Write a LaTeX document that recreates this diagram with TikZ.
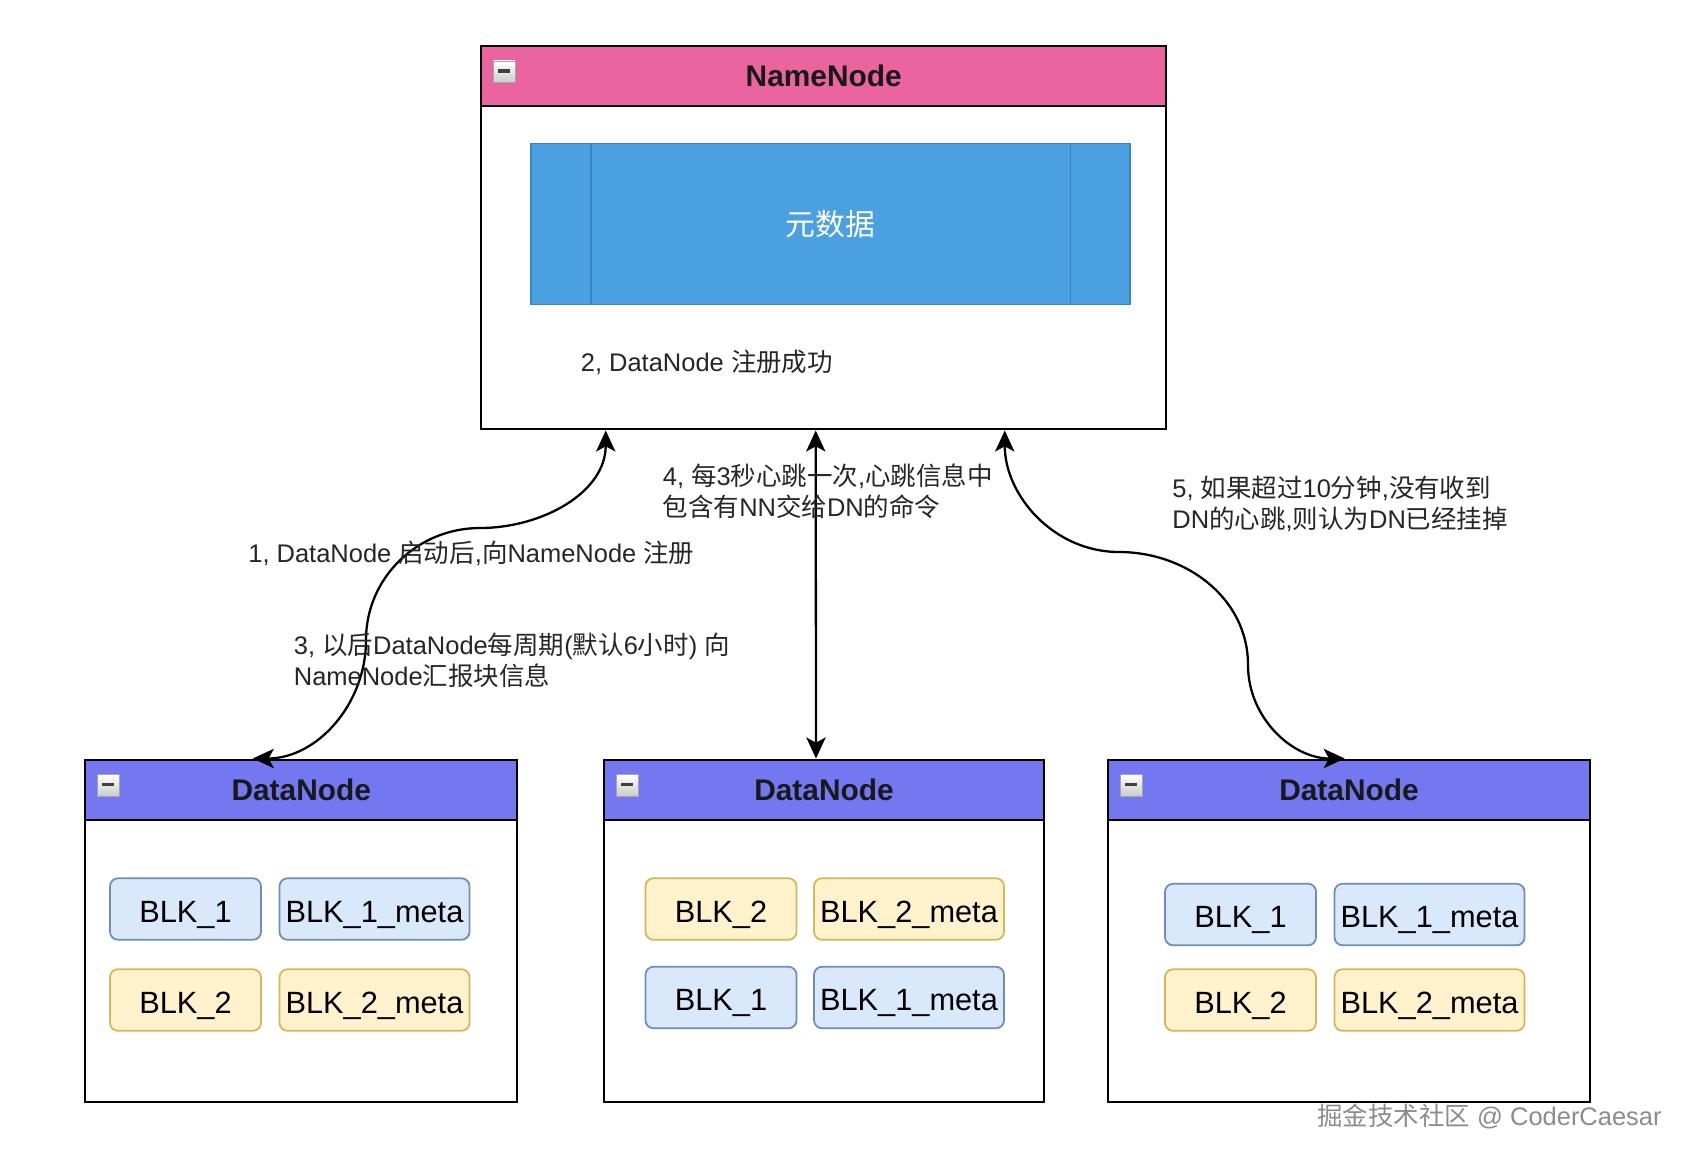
\documentclass[tikz,border=0pt]{standalone}
\usepackage{fontspec}
\setmainfont{Liberation Sans}
\newfontfamily\zhfont{Noto Sans CJK SC}
\usetikzlibrary{arrows.meta,calc,positioning}
\definecolor{HdfsPink}{HTML}{EA64A0}
\definecolor{HdfsViolet}{HTML}{7378F0}
\definecolor{HdfsMeta}{HTML}{4AA0E1}
\definecolor{HdfsMetaLine}{HTML}{3A84C6}
\definecolor{BlkBlueFill}{HTML}{DAE8FC}
\definecolor{BlkBlueLine}{HTML}{6C8EBF}
\definecolor{BlkGoldFill}{HTML}{FFF2CC}
\definecolor{BlkGoldLine}{HTML}{D6B656}
\definecolor{MarkGray}{HTML}{8C8C8C}
\tikzset{
  panel/.style={draw=black,line width=1.4pt,fill=white,anchor=north west,
    inner sep=0pt},
  panelhead/.style={panel,minimum height=1.2cm},
  headtitle/.style={font=\bfseries\fontsize{17}{20}\selectfont,text=black!90},
  fold/.style={anchor=north west,minimum size=0.43cm,inner sep=0pt,
    draw=gray!70,line width=0.5pt,top color=white,bottom color=gray!40,
    path picture={\fill[black!75]
      ($(path picture bounding box.north west)+(0.1,-0.17)$) rectangle
      ($(path picture bounding box.north west)+(0.33,-0.24)$);}},
  blk/.style={rounded corners=0.16cm,line width=1pt,inner sep=0pt,
    minimum width=3.02cm,minimum height=1.23cm,text height=15pt,text depth=0pt,
    font=\fontsize{17.5}{20}\selectfont},
  blkmeta/.style={blk,minimum width=3.8cm},
  bluecell/.style={fill=BlkBlueFill,draw=BlkBlueLine},
  goldcell/.style={fill=BlkGoldFill,draw=BlkGoldLine},
  note/.style={anchor=west,align=left,inner sep=0pt,text=black!85,
    font=\fontsize{14.5}{17.6}\selectfont},
  link/.style={>={Stealth[length=12pt,width=11pt,inset=3pt]},<->,line width=1.3pt}
}

\begin{document}
\begin{tikzpicture}

        \useasboundingbox (0,0) rectangle (33.84,-23.2);

        \node[panel,minimum width=13.7cm,minimum height=7.66cm]
          (nn) at (9.6,-0.9) {};
        \node[panelhead,fill=HdfsPink,minimum width=13.7cm]
          (nnHead) at (nn.north west) {};
        \node[headtitle] (nnTitle) at (nnHead.center) {NameNode};
        \node[fold] (nnFold) at ($(nnHead.north west)+(0.26,-0.31)$) {};

        \node[fill=HdfsMeta,draw=HdfsMetaLine,line width=1pt,
          minimum width=11.98cm,minimum height=3.22cm,text=white,
          font=\zhfont\fontsize{17}{20}\selectfont]
          (meta) at (16.61,-4.48) {元数据};
        \draw[HdfsMetaLine,line width=1pt]
          ([xshift=1.21cm]meta.north west) -- ([xshift=1.21cm]meta.south west);
        \draw[HdfsMetaLine,line width=1pt]
          ([xshift=-1.21cm]meta.north east) -- ([xshift=-1.21cm]meta.south east);

        \node[note] (regOk) at (11.61,-7.25) {2, DataNode {\zhfont 注册成功}};

        \foreach \nm/\x/\w in {dnA/1.68/8.64,dnB/12.06/8.79,dnC/22.14/9.63} {
          \node[panel,minimum width=\w cm,minimum height=6.84cm]
            (\nm) at (\x,-15.17) {};
          \node[panelhead,fill=HdfsViolet,minimum width=\w cm]
            (\nm Head) at (\nm.north west) {};
          \node[headtitle] (\nm Title) at (\nm Head.center) {DataNode};
          \node[fold] (\nm Fold) at ($(\nm Head.north west)+(0.26,-0.31)$) {};
        }

        \node[blk,bluecell] (aBlk1) at (3.71,-18.18) {BLK\_1};
        \node[blkmeta,bluecell] (aMeta1) at (7.49,-18.18) {BLK\_1\_meta};
        \node[blk,goldcell] (aBlk2) at (3.71,-20.0) {BLK\_2};
        \node[blkmeta,goldcell] (aMeta2) at (7.49,-20.0) {BLK\_2\_meta};

        \node[blk,goldcell] (bBlk2) at (14.42,-18.18) {BLK\_2};
        \node[blkmeta,goldcell] (bMeta2) at (18.18,-18.18) {BLK\_2\_meta};
        \node[blk,bluecell] (bBlk1) at (14.42,-19.95) {BLK\_1};
        \node[blkmeta,bluecell] (bMeta1) at (18.18,-19.95) {BLK\_1\_meta};

        \node[blk,bluecell] (cBlk1) at (24.81,-18.29) {BLK\_1};
        \node[blkmeta,bluecell] (cMeta1) at (28.59,-18.29) {BLK\_1\_meta};
        \node[blk,goldcell] (cBlk2) at (24.81,-20.0) {BLK\_2};
        \node[blkmeta,goldcell] (cMeta2) at (28.59,-20.0) {BLK\_2\_meta};

        \coordinate (regBendA) at (9.6,-10.56);
        \coordinate (regBendB) at (7.32,-12.8);
        \coordinate (lostBendA) at (22.38,-11.04);
        \coordinate (lostBendB) at (24.96,-13.3);

        \draw[link] ([xshift=-4.36cm]nn.south) to[out=-90,in=0] (regBendA)
          to[out=180,in=90] (regBendB) to[out=-90,in=0] ([xshift=-0.97cm]dnA.north);
        \draw[link] ([xshift=-0.16cm]nn.south) -- ([xshift=-0.16cm]dnB.north);
        \draw[link] ([xshift=3.62cm]nn.south) to[out=-90,in=180] (lostBendA)
          to[out=0,in=90] (lostBendB) to[out=-90,in=180] ([xshift=-0.085cm]dnC.north);

        \node[note] (regLbl) at (4.96,-11.07)
          {1, DataNode {\zhfont 启动后},{\zhfont 向}NameNode {\zhfont 注册}};
        \node[note] (reportLbl) at (5.87,-13.2)
          {3, {\zhfont 以后}DataNode{\zhfont 每周期}({\zhfont 默认}6{\zhfont 小时}) {\zhfont 向}\\
           NameNode{\zhfont 汇报块信息}};
        \node[note] (beatLbl) at (13.25,-9.83)
          {4, {\zhfont 每}3{\zhfont 秒心跳一次},{\zhfont 心跳信息中}\\
           {\zhfont 包含有}NN{\zhfont 交给}DN{\zhfont 的命令}};
        \node[note] (lostLbl) at (23.44,-10.07)
          {5, {\zhfont 如果超过}10{\zhfont 分钟},{\zhfont 没有收到}\\
           DN{\zhfont 的心跳},{\zhfont 则认为}DN{\zhfont 已经挂掉}};

        \node[anchor=east,inner sep=0pt,text=MarkGray,
          font=\fontsize{14.5}{17}\selectfont]
          (mark) at (33.24,-22.32) {{\zhfont 掘金技术社区} @ CoderCaesar};

      \end{tikzpicture}
\end{document}
